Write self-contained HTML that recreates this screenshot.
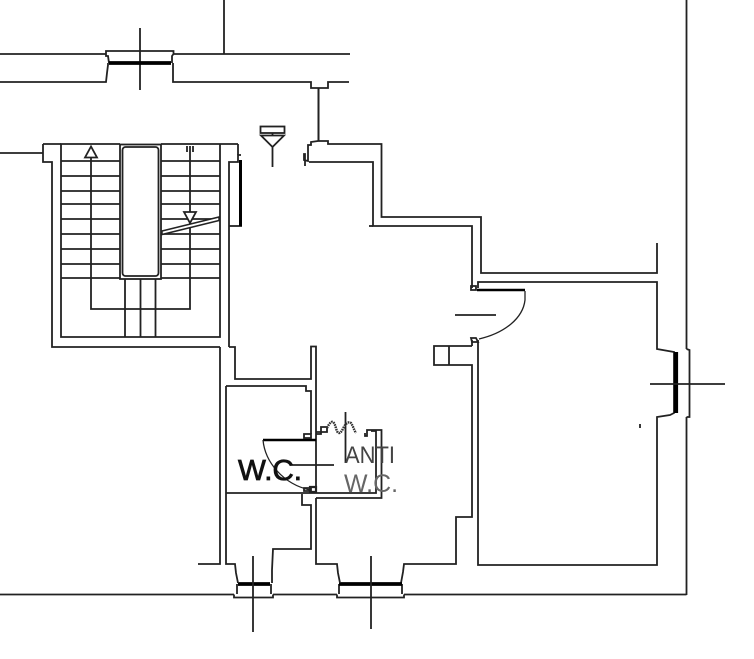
<!DOCTYPE html>
<html>
<head>
<meta charset="utf-8">
<style>
html,body{margin:0;padding:0;background:#fff;width:754px;height:659px;overflow:hidden}
svg{display:block}
</style>
</head>
<body>
<svg width="754" height="659" viewBox="0 0 754 659" xmlns="http://www.w3.org/2000/svg">
<g fill="none" stroke="#222" stroke-width="1.800">
<!-- top window and walls -->
<path d="M0 54H106V56H108L109 63M173 54H350M106 54V51H173.500V54L172 56V63"/>
<path d="M0 82H106L107 73L108 65V63M173 63V82H311V88H328V82H349"/>
<path d="M140 28V90M224 0V54"/>
<path d="M109 63H171" stroke="#000" stroke-width="3.800"/>
<!-- pillar line and stepped walls -->
<path d="M318.500 88V141" stroke-width="2"/>
<path d="M305 166V154H304V160L308 161V145L311 145V142L318 141H328V144H381.500V217H481V273H657V243"/>
<path d="M309 162H373V226H472V288"/>
<path d="M369 226H373"/>
<path d="M478 288V282H657V349L674 352V413L670 415L657 417V565H478V340"/>
<path d="M686.500 0V349M686.500 417V595"/>
<path d="M686.500 349L689.500 350V417H686.500"/>
<path d="M676 352V413" stroke="#000" stroke-width="4.200"/>
<path d="M650 384H725"/>
<!-- right door -->
<path d="M471 286H476V290H471Z"/>
<path d="M477 290H525" stroke="#000" stroke-width="2.600"/>
<path d="M525 291V300C523 318 505 333 479 339" stroke-width="1.300"/>
<path d="M455 315H496"/>
<path d="M471 338L476 338L478 342H472Z"/>
<path d="M472 346H434V365H472V517H456V564H404L403 572L401 583"/>
<path d="M449 346V365M472 340V346"/>
<!-- bottom walls -->
<path d="M0 594.500H234M273 594.500H337M404 594.500H686.500"/>
<path d="M234 594.500V597.500H273V594.500M337 594.500V597.500H404V594.500"/>
<path d="M237 594V584M271 594V584M339 594V584M402 594V584"/>
<path d="M238 584H270M339 584H402" stroke="#000" stroke-width="3.800"/>
<path d="M253 556V632M371 556V629"/>
<path d="M198 564H220V347M226 386V564H235L236 573L238 583"/>
<path d="M272 583V570L273 549H311V505H302V494"/>
<path d="M316 498V564H337L338 573L340 583"/>
<!-- stairs -->
<path d="M0 153H43M43 144V162H52V347H220M43 144H61"/>
<path d="M229 347V162H238V155H241"/>
<path d="M229 226H242"/>
<path d="M240.500 160V226" stroke="#000" stroke-width="3"/>
<path d="M238 144V155M220 144H238M220 144V337H61V144H120M161 144H220"/>
<path d="M61 161H120M61 176H120M61 191H120M61 204H120M61 219H120M61 234H120M61 249H120M61 264H120M61 278H120"/>
<path d="M161 161H220M161 176H220M161 191H220M161 204H220M161 219H220M161 234H220M161 249H220M161 264H220M161 278H220"/>
<rect x="120" y="144.500" width="41" height="134.500"/>
<rect x="122.500" y="147" width="36" height="129" rx="3" ry="3"/>
<path d="M91 157V309H190V146M187 146V152M193 146V152"/>
<path d="M125 279V337M140.500 279V337M155.500 279V337"/>
<path d="M91 146.500L85 157.500H97Z" fill="#fff"/>
<path d="M184 212H196L190 223Z" fill="#fff"/>
<path d="M162 231L219 217V220.500L162 234.500Z" fill="#fff" stroke-width="1.500"/>
<!-- symbol -->
<rect x="260.500" y="126.500" width="24" height="6.500"/>
<path d="M272.500 133V135M261 135.500H284L272.500 147ZM272.500 147V167"/>
<!-- WC area -->
<path d="M229 347H235V379H311V346.500H316V493M226 386H306V391H311V434"/>
<path d="M316 432H327V427H321V434H316"/>
<path d="M311 434H304V438H311ZM311 488H304V491H311Z"/>
<path d="M316 487V492H310V487Z" stroke-width="2.200"/>
<path d="M263 440H316" stroke="#000" stroke-width="2.400"/>
<path d="M263 440C265 462 283 484 310 490" stroke-width="1.300"/>
<path d="M290 465H334"/>
<path d="M226 493H376V431H371"/>
<path d="M316 498H381.500V430H367V436H365V433"/>
<path d="M345.500 412V463"/>
<path d="M327 428C329 424 331 421 333 422C336 424 336 433 339 433C342 433 343 427 346 424C348 422 350 422 351 423C353 426 354 430 356 433" stroke-width="2.400" stroke-dasharray="1.600 .8" stroke="#333"/>
<path d="M640 424V428"/>
</g>
<g font-family="'Liberation Sans', Arial, sans-serif">
<text x="238" y="480" font-size="29" fill="#111" stroke="#111" stroke-width=".8" textLength="64" lengthAdjust="spacingAndGlyphs">W.C.</text>
<text x="345" y="463" font-size="24" fill="#444" textLength="50" lengthAdjust="spacingAndGlyphs">ANTI</text>
<text x="344" y="492" font-size="25" fill="#666" textLength="54" lengthAdjust="spacingAndGlyphs">W.C.</text>
</g>
</svg>
</body>
</html>
